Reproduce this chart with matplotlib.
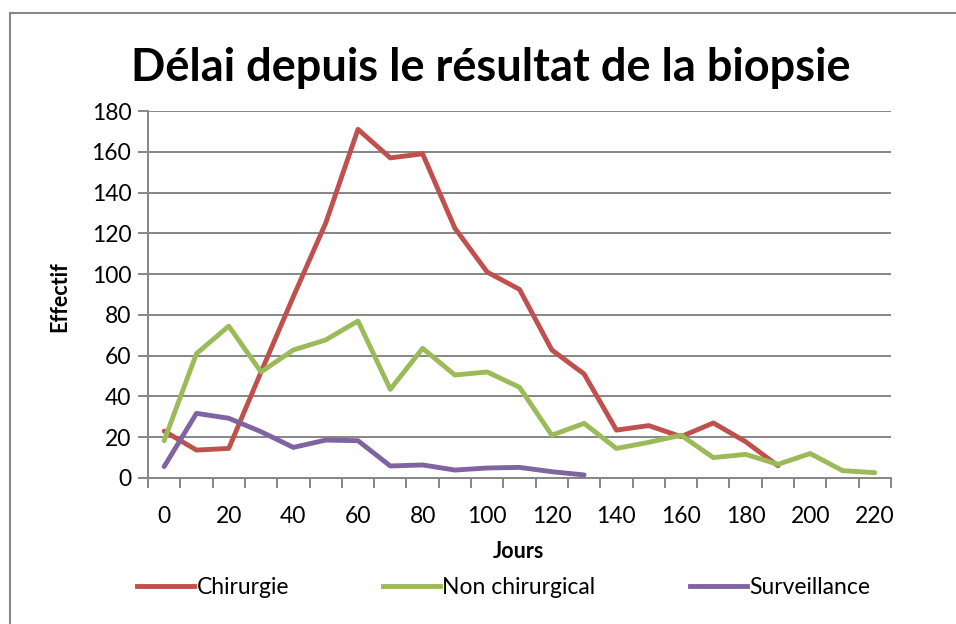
import matplotlib
matplotlib.use("Agg")
import matplotlib.pyplot as plt
from matplotlib.lines import Line2D
from matplotlib.patches import Rectangle

jours = [0, 10, 20, 30, 40, 50, 60, 70, 80, 90, 100, 110, 120, 130, 140, 150,
         160, 170, 180, 190, 200, 210, 220]
chirurgie = [23, 13.7, 14.5, 52, 89, 125, 171, 157, 159, 122.5, 101, 92.5, 62.8,
             51, 23.5, 25.7, 20.3, 27, 17.8, 6]
non_chir = [18.3, 61, 74.5, 52, 62.8, 67.7, 77, 43.5, 63.6, 50.5, 52, 44.5, 21,
            26.8, 14.5, 17.5, 21, 10, 11.6, 6.7, 12, 3.6, 2.6]
surveillance = [5.6, 31.7, 29.3, 22.7, 15, 18.6, 18.3, 5.9, 6.4, 3.9, 4.9, 5.2,
                3.1, 1.5]
tick_labels = [str(v) for v in range(0, 221, 20)]
y_ticks = list(range(0, 181, 20))

plt.rcParams['font.family'] = ['Lato', 'DejaVu Sans']

W, H = 956, 624
fig = plt.figure(figsize=(W / 100, H / 100), dpi=100)

# chart border
fig.patches.append(Rectangle((10 / W, -0.1), 1.2, 1 - 13.5 / H + 0.1,
                             transform=fig.transFigure, fill=False,
                             edgecolor='#878787', linewidth=1.5))

ax = fig.add_axes([148 / W, 1 - 478 / H, (891 - 148) / W, (478 - 111) / H])

c_red, c_green, c_purple = '#C0504D', '#9BBB59', '#8064A2'
lw = 3.5
ax.plot(jours[:len(chirurgie)], chirurgie, color=c_red, lw=lw, solid_capstyle='round', zorder=3)
ax.plot(jours[:len(non_chir)], non_chir, color=c_green, lw=lw, solid_capstyle='round', zorder=3)
ax.plot(jours[:len(surveillance)], surveillance, color=c_purple, lw=lw, solid_capstyle='round', zorder=3)

ax.set_xlim(-5, 225)
ax.set_ylim(0, 180)
ax.set_yticks(y_ticks)
ax.grid(axis='y', color='#868686', linewidth=1.4)
ax.set_axisbelow(True)

# category boundaries as major ticks, labels as minor ticks
ax.set_xticks([j - 5 for j in jours] + [225])
ax.set_xticklabels([])
ax.set_xticks(list(range(0, 221, 20)), minor=True)
ax.set_xticklabels(tick_labels, minor=True)
ax.tick_params(axis='x', which='major', length=7, width=1.4, color='#868686', direction='out')
ax.tick_params(axis='x', which='minor', length=0, labelsize=16.5, pad=20)
ax.tick_params(axis='y', length=7, width=1.4, color='#868686', direction='out', labelsize=16.5, pad=5)

for s in ['top', 'right']:
    ax.spines[s].set_visible(False)
for s in ['left', 'bottom']:
    ax.spines[s].set_color('#868686')
    ax.spines[s].set_linewidth(1.4)

fig.text(491 / W, 1 - 68 / H, 'Délai depuis le résultat de la biopsie',
         ha='center', va='center', fontsize=32.5, fontweight='bold')
fig.text(60 / W, 1 - 297 / H, 'Effectif', rotation=90, ha='center', va='center',
         fontsize=15.5, fontweight='bold')
fig.text(518 / W, 1 - 551 / H, 'Jours', ha='center', va='center',
         fontsize=15.5, fontweight='bold')

handles = [Line2D([], [], color=c, lw=lw) for c in (c_red, c_green, c_purple)]
fig.legend(handles, ['Chirurgie', 'Non chirurgical', 'Surveillance'],
           loc='center', bbox_to_anchor=(503.5 / W, 1 - 588 / H), ncol=3,
           frameon=False, fontsize=16.5, handlelength=2.5, handletextpad=0.1,
           columnspacing=4.1)

fig.savefig('out.png', dpi=100)
